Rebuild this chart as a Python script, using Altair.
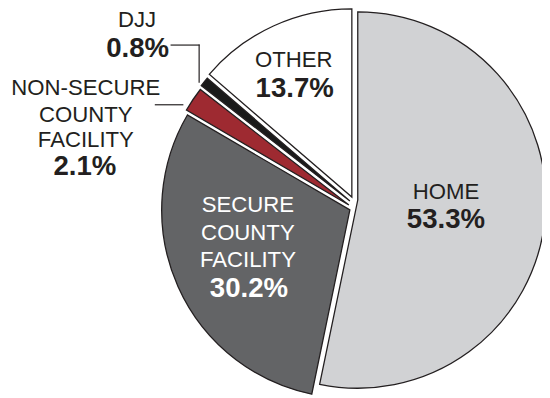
import altair as alt
import pandas as pd

categories = ["HOME", "SECURE COUNTY FACILITY", "NON-SECURE COUNTY FACILITY", "DJJ", "OTHER"]
values = [53.3, 30.2, 2.1, 0.8, 13.7]
order = [0, 1, 2, 3, 4]
colors = ["#d1d2d4", "#636466", "#9e2a31", "#1a1a1a", "#ffffff"]

df = pd.DataFrame({"cat": categories, "value": values, "order": order})

# layout / style: pie centre in view pixels, radius, and per-slice explode shift
CX, CY, R = 350, 196, 191
EXPLODE = {
    "HOME": (5, -4),
    "SECURE COUNTY FACILITY": (-3, 6),
    "NON-SECURE COUNTY FACILITY": (-4, 1),
    "DJJ": (-3, -3),
    "OTHER": (-1, -7),
}
dx_expr = " : ".join(f"datum.cat == '{k}' ? {v[0]}" for k, v in EXPLODE.items()) + " : 0"
dy_expr = " : ".join(f"datum.cat == '{k}' ? {v[1]}" for k, v in EXPLODE.items()) + " : 0"

FONT = "Liberation Sans"
INK = "#231f20"

pie = (
    alt.Chart(df)
    .transform_window(cum="sum(value)", sort=[alt.SortField("order")], frame=[None, 0])
    .transform_joinaggregate(total="sum(value)")
    .transform_calculate(
        t0="(datum.cum - datum.value) / datum.total * 2 * PI",
        t1="datum.cum / datum.total * 2 * PI",
        cx=f"{CX} + ({dx_expr})",
        cy=f"{CY} + ({dy_expr})",
    )
    .mark_arc(radius=R, stroke=INK, strokeWidth=1.3, strokeJoin="miter")
    .encode(
        theta=alt.Theta("t0:Q", scale=None),
        theta2="t1:Q",
        x=alt.X("cx:Q", scale=None, axis=None),
        y=alt.Y("cy:Q", scale=None, axis=None),
        color=alt.Color("cat:N", scale=alt.Scale(domain=categories, range=colors), legend=None),
    )
)


def label(text, x, y, bold=False, color=INK):
    return alt.Chart(df.head(1)).mark_text(
        text=text,
        font=FONT,
        fontSize=28 if bold else 22.5,
        fontWeight=700 if bold else 400,
        color=color,
        align="center",
        baseline="middle",
    ).encode(x=alt.value(x), y=alt.value(y))


labels = [
    label("HOME", 444.5, 183.5),
    label("53.3%", 444.5, 212.5, bold=True),
    label("OTHER", 290, 49.5),
    label("13.7%", 291, 79, bold=True),
    label("SECURE", 243.5, 197, color="#ffffff"),
    label("COUNTY", 243.5, 225.5, color="#ffffff"),
    label("FACILITY", 243.5, 253, color="#ffffff"),
    label("30.2%", 244.5, 282, bold=True, color="#ffffff"),
    label("DJJ", 131, 9.5),
    label("0.8%", 131.5, 38.5, bold=True),
    label("NON-SECURE", 79, 78.5),
    label("COUNTY", 79, 105.5),
    label("FACILITY", 79, 131.5),
    label("2.1%", 78, 159, bold=True),
]

rule_base = alt.Chart(df.head(1)).mark_rule(color=INK, strokeWidth=1.2)
leaders = [
    rule_base.encode(x=alt.value(165), x2=alt.value(194.5), y=alt.value(34.7)),
    rule_base.encode(x=alt.value(194), y=alt.value(34.2), y2=alt.value(73)),
    rule_base.encode(x=alt.value(149), x2=alt.value(178), y=alt.value(95.3)),
]

chart = (
    alt.layer(pie, *leaders, *labels)
    .properties(width=542, height=390, autosize=alt.AutoSizeParams(type="none"), padding=0)
    .configure_view(stroke=None)
)

chart.save("out.html", embed_options={"renderer": "svg", "actions": False})
